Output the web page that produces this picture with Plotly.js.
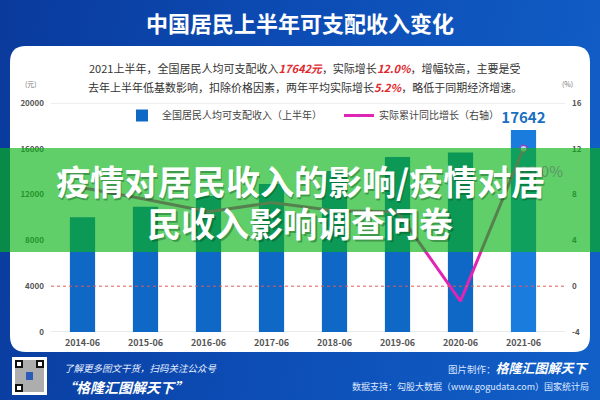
<!DOCTYPE html>
<html><head><meta charset="utf-8">
<script src="https://cdn.plot.ly/plotly-3.0.1.min.js"></script>
<style>
html,body{margin:0;padding:0;width:600px;height:400px;overflow:hidden;}
body{background:linear-gradient(100deg,#0a3a9c 0%,#0c4cb4 45%,#1160c8 100%);}
#chart{width:600px;height:400px;}
</style></head><body><div id="chart"></div>
<script>
// ---- data ----
const categories = ['2014-06','2015-06','2016-06','2017-06','2018-06','2019-06','2020-06','2021-06'];
const incomeValues = [10026,10931,11886,12932,14063,15294,15666,17642];
const growthValues = [8.6,7.6,6.5,7.3,6.6,6.5,-1.3,12.0];
const leftTicks = [0,4000,8000,12000,16000,20000];
const rightTicks = [-4,0,4,8,12,16];
const barName = '全国居民人均可支配收入（上半年）';
const lineName = '实际累计同比增长（右轴）';
const titleText = '中国居民上半年可支配收入变化';
const bannerLine1 = '疫情对居民收入的影响/疫情对居';
const bannerLine2 = '民收入影响调查问卷';

// ---- geometry helpers (pixel -> paper) ----
const L = 51, R = 35, T = 103, B = 68, W = 600, H = 400;
const PW = W - L - R, PH = H - T - B;
const X = px => (px - L) / PW;
const Y = py => (H - B - py) / PH;
const FONT = '"Noto Sans CJK SC", "Noto Sans", sans-serif';

const lastIdx = incomeValues.length - 1;
const barText = incomeValues.map((v, i) => i === lastIdx ? String(v) : '');
const barColors = incomeValues.map((v, i) => i === lastIdx ? '#1a7cdc' : '#0f68c6');
const markerSizes = growthValues.map((v, i) => i === lastIdx ? 7 : 0);

const traces = [
  {
    type: 'bar', x: categories, y: incomeValues, name: barName,
    marker: {color: barColors}, width: 0.4,
    text: barText, textposition: 'outside', cliponaxis: false, constraintext: 'none',
    textfont: {family: FONT, size: 15, color: '#1b6fc2', weight: 'bold'},
    hoverinfo: 'none'
  },
  {
    type: 'scatter', mode: 'lines+markers', x: categories, y: growthValues,
    yaxis: 'y2', name: lineName,
    line: {color: '#e024b4', width: 3},
    marker: {size: markerSizes, color: '#ffffff', line: {color: '#c030c0', width: 1.5}},
    cliponaxis: false,
    hoverinfo: 'none'
  }
];

// rounded panel path
function roundRect(x0, y0, x1, y1, r) {
  const rx = r / PW, ry = r / PH;
  const a = X(x0), b = X(x1), top = Y(y0), bot = Y(y1);
  return `M${a + rx},${top} L${b - rx},${top} Q${b},${top} ${b},${top - ry} L${b},${bot + ry} Q${b},${bot} ${b - rx},${bot} L${a + rx},${bot} Q${a},${bot} ${a},${bot + ry} L${a},${top - ry} Q${a},${top} ${a + rx},${top} Z`;
}
function rectPx(x0, y0, x1, y1, fill, extra) {
  return Object.assign({type: 'rect', xref: 'paper', yref: 'paper', x0: X(x0), x1: X(x1), y0: Y(y1), y1: Y(y0),
    fillcolor: fill, line: {width: 0}, layer: 'above'}, extra || {});
}

const shapes = [
  {type: 'path', xref: 'paper', yref: 'paper', path: roundRect(10, 46, 590, 352, 16), fillcolor: '#ffffff', line: {width: 0}, layer: 'below'},
  {type: 'line', xref: 'paper', yref: 'y', x0: 0, x1: 1, y0: 20000, y1: 20000, line: {color: '#dddddd', width: 1}, layer: 'below'},
  {type: 'line', xref: 'paper', yref: 'y', x0: 0, x1: 1, y0: 0, y1: 0, line: {color: '#d5d5d5', width: 1}, layer: 'below'},
  {type: 'line', xref: 'paper', yref: 'y2', x0: 0, x1: 1, y0: 0, y1: 0, line: {color: '#e05a5a', width: 1, dash: 'dot'}, layer: 'above'},
  // green banner overlay
  rectPx(-2, 148, 602, 252, 'rgb(10,179,25)', {opacity: 0.65}),
  // QR code
  rectPx(12, 357, 47, 395, '#ffffff'),
  rectPx(15, 360, 44, 392, '#6a6a6a', {opacity: 0.55}),
  rectPx(15, 360, 23, 368, '#111111'),
  rectPx(36, 360, 44, 368, '#111111'),
  rectPx(15, 384, 23, 392, '#111111'),
  rectPx(17, 362, 21, 366, '#ffffff'),
  rectPx(38, 362, 42, 366, '#ffffff'),
  rectPx(17, 386, 21, 390, '#ffffff'),
  rectPx(26, 372, 33, 380, '#2a5bb8')
];

function ann(px, py, text, size, color, opts) {
  return Object.assign({xref: 'paper', yref: 'paper', x: X(px), y: Y(py), text: text, showarrow: false,
    xanchor: 'center', yanchor: 'middle', font: {family: FONT, size: size, color: color}}, opts || {});
}
const red = s => `<b><i><span style="color:#e0282e">${s}</span></i></b>`;

const annotations = [
  ann(300, 22, `<b>${titleText}</b>`, 22, '#ffffff'),
  ann(305, 68, `2021上半年，全国居民人均可支配收入${red('17642元')}，实际增长${red('12.0%')}，增幅较高，主要是受`, 11, '#333333'),
  ann(305, 87, `去年上半年低基数影响，扣除价格因素，两年平均实际增长${red('5.2%')}，略低于同期经济增速。`, 11, '#333333'),
  ann(31, 84, '(元)', 7, '#777777'),
  ann(567, 84, '(%)', 7, '#777777'),
  // growth label of last point (seen through the banner)
  {xref: 'x', yref: 'y2', x: categories[lastIdx], y: growthValues[lastIdx], text: growthValues[lastIdx].toFixed(1) + '%',
    showarrow: false, xanchor: 'center', yanchor: 'middle', xshift: 18, yshift: -22,
    font: {family: FONT, size: 15, color: 'rgb(92,150,102)'}},
  // banner text (shadow + text)
  ann(301.5, 182, `<b>${bannerLine1}</b>`, 34, 'rgba(0,60,20,0.35)'),
  ann(300, 180, `<b>${bannerLine1}</b>`, 34, '#ffffff'),
  ann(301.5, 224, `<b>${bannerLine2}</b>`, 34, 'rgba(0,60,20,0.35)'),
  ann(300, 222, `<b>${bannerLine2}</b>`, 34, '#ffffff'),
  // footer
  ann(62, 368, '<i>了解更多图文干货，扫码关注公众号</i>', 9.5, '#e8f0ff', {xanchor: 'left'}),
  ann(60, 387, '<b><i>“格隆汇图解天下”</i></b>', 14, '#ffffff', {xanchor: 'left'}),
  ann(591, 367, '<span style="font-size:9.5px;color:#d8e4ff">图片制作：</span><b><i>格隆汇图解天下</i></b>', 13, '#ffffff', {xanchor: 'right'}),
  ann(591, 386, '数据支持：勾股大数据（www.gogudata.com）国家统计局', 9, '#dfe8ff', {xanchor: 'right'})
];

const layout = {
  width: W, height: H,
  margin: {l: L, r: R, t: T, b: B, pad: 0},
  paper_bgcolor: 'rgba(0,0,0,0)', plot_bgcolor: 'rgba(0,0,0,0)',
  font: {family: FONT},
  showlegend: true,
  legend: {orientation: 'h', x: X(122), y: Y(101), xanchor: 'left', yanchor: 'top',
    entrywidth: 172, entrywidthmode: 'pixels', font: {family: FONT, size: 10, color: '#444444'},
    bgcolor: 'rgba(0,0,0,0)', itemclick: false},
  bargap: 0.6,
  xaxis: {type: 'category', categoryorder: 'array', categoryarray: categories,
    tickfont: {family: FONT, size: 9, color: '#555555', weight: 'bold'}, showline: false, showgrid: false,
    zeroline: false, ticks: '', ticklabelstandoff: 4, fixedrange: true},
  yaxis: {range: [0, 20000], tickvals: leftTicks, ticktext: leftTicks.map(String), showgrid: false, zeroline: false,
    showline: false, ticks: '', tickfont: {family: FONT, size: 8, color: '#555555', weight: 'bold'}, ticklabelstandoff: 6, fixedrange: true},
  yaxis2: {range: [-4, 16], tickvals: rightTicks, ticktext: rightTicks.map(String), overlaying: 'y', side: 'right',
    showgrid: false, zeroline: false, showline: false, ticks: '', tickfont: {family: FONT, size: 8, color: '#555555', weight: 'bold'}, ticklabelstandoff: 6, fixedrange: true},
  shapes: shapes,
  annotations: annotations
};

Plotly.newPlot('chart', traces, layout, {staticPlot: true, displayModeBar: false});
</script></body></html>
